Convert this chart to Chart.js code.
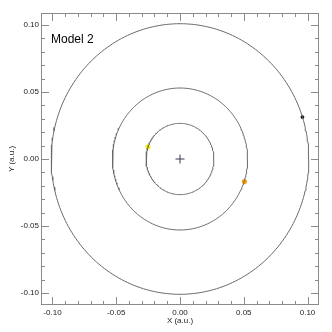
<!DOCTYPE html>
<html>
<head>
<meta charset="utf-8">
<script src="https://cdn.jsdelivr.net/npm/chart.js@4/dist/chart.umd.min.js"></script>
<style>
	html, body { margin: 0; padding: 0; background: #fff; }
	#wrap { width: 332px; height: 332px; }
</style>
</head>
<body>
<div id="wrap"><canvas id="orbits"></canvas></div>
<script>
// orbit radii (a.u.) and body positions
const orbitRadii = [0.0266, 0.053, 0.101];
const bodyX = [-0.0251, 0.0505, 0.096];
const bodyY = [0.009, -0.0169, 0.0313];
const bodyColors = ["#f8f400", "#ff9a00", "#000000"];
const tickValues = [-0.1, -0.05, 0.0, 0.05, 0.1];
const axisMin = -0.109;
const axisMax = 0.109;

const ringPoints = (r) => {
	const pts = [];
	for (let i = 0; i <= 240; i++) {
		const a = (i / 240) * Math.PI * 2;
		pts.push({ x: r * Math.cos(a), y: r * Math.sin(a) });
	}
	return pts;
};

const fmt = (v) => (Math.abs(v) < 1e-9 ? "0.00" : v.toFixed(2));

// frame with inward ticks on all four sides, plus the label
const frame = {
	id: "frame",
	afterDraw(chart) {
		const { ctx, chartArea: a, scales } = chart;
		const xs = scales.x, ys = scales.y;
		ctx.save();
		ctx.strokeStyle = "#8a8a8a";
		ctx.lineWidth = 1;
		ctx.strokeRect(a.left + 0.5, a.top + 0.5, a.right - a.left - 1, a.bottom - a.top - 1);
		ctx.beginPath();
		for (let i = -10; i <= 10; i++) {
			const len = i % 5 === 0 ? 8 : 4;
			const px = Math.round(xs.getPixelForValue(i / 100)) + 0.5;
			const py = Math.round(ys.getPixelForValue(i / 100)) + 0.5;
			ctx.moveTo(px, a.bottom); ctx.lineTo(px, a.bottom - len);
			ctx.moveTo(px, a.top); ctx.lineTo(px, a.top + len);
			ctx.moveTo(a.left, py); ctx.lineTo(a.left + len, py);
			ctx.moveTo(a.right, py); ctx.lineTo(a.right - len, py);
		}
		ctx.stroke();
		ctx.fillStyle = "#000";
		ctx.font = "12px 'Liberation Sans', Arial, sans-serif";
		ctx.textBaseline = "alphabetic";
		ctx.fillText("Model 2", a.left + 10, a.top + 29.5);
		ctx.restore();
	},
};

const datasets = orbitRadii.map((r) => ({
	data: ringPoints(r),
	showLine: true,
	borderColor: "#6a6a6a",
	borderWidth: 1,
	pointRadius: 0,
	tension: 0,
}));

datasets.push({
	data: [{ x: 0, y: 0 }],
	pointStyle: "cross",
	pointRadius: 4.5,
	borderColor: "#3a3a55",
	borderWidth: 1,
});

bodyX.forEach((x, i) => {
	datasets.push({
		data: [{ x: x, y: bodyY[i] }],
		pointRadius: i === 2 ? 1.6 : 2.4,
		backgroundColor: bodyColors[i],
		borderColor: bodyColors[i],
		borderWidth: 0.5,
	});
});

const tickFont = { family: "'Liberation Sans', Arial, sans-serif", size: 8 };

new Chart(document.getElementById("orbits"), {
	type: "scatter",
	data: { datasets: datasets },
	plugins: [frame],
	options: {
		responsive: true,
		maintainAspectRatio: false,
		animation: false,
		layout: { padding: { top: 13, right: 13, left: 0, bottom: 0 } },
		plugins: { legend: { display: false }, tooltip: { enabled: false } },
		scales: {
			x: {
				min: axisMin,
				max: axisMax,
				afterFit: (s) => { s.height = 27; },
				afterBuildTicks: (s) => { s.ticks = tickValues.map((v) => ({ value: v })); },
				grid: { display: false, drawTicks: false },
				border: { display: false },
				ticks: { padding: 3, color: "#222", font: tickFont, callback: fmt, maxRotation: 0 },
				title: {
					display: true,
					text: "X (a.u.)",
					color: "#222",
					font: tickFont,
					padding: { top: 0, bottom: 6 },
				},
			},
			y: {
				min: axisMin,
				max: axisMax,
				afterFit: (s) => { s.width = 41; },
				afterBuildTicks: (s) => { s.ticks = tickValues.map((v) => ({ value: v })); },
				grid: { display: false, drawTicks: false },
				border: { display: false },
				ticks: { padding: 2, color: "#222", font: tickFont, callback: fmt },
				title: {
					display: true,
					text: "Y (a.u.)",
					color: "#222",
					font: tickFont,
					padding: { top: 7, bottom: 0 },
				},
			},
		},
	},
});
</script>
</body>
</html>
